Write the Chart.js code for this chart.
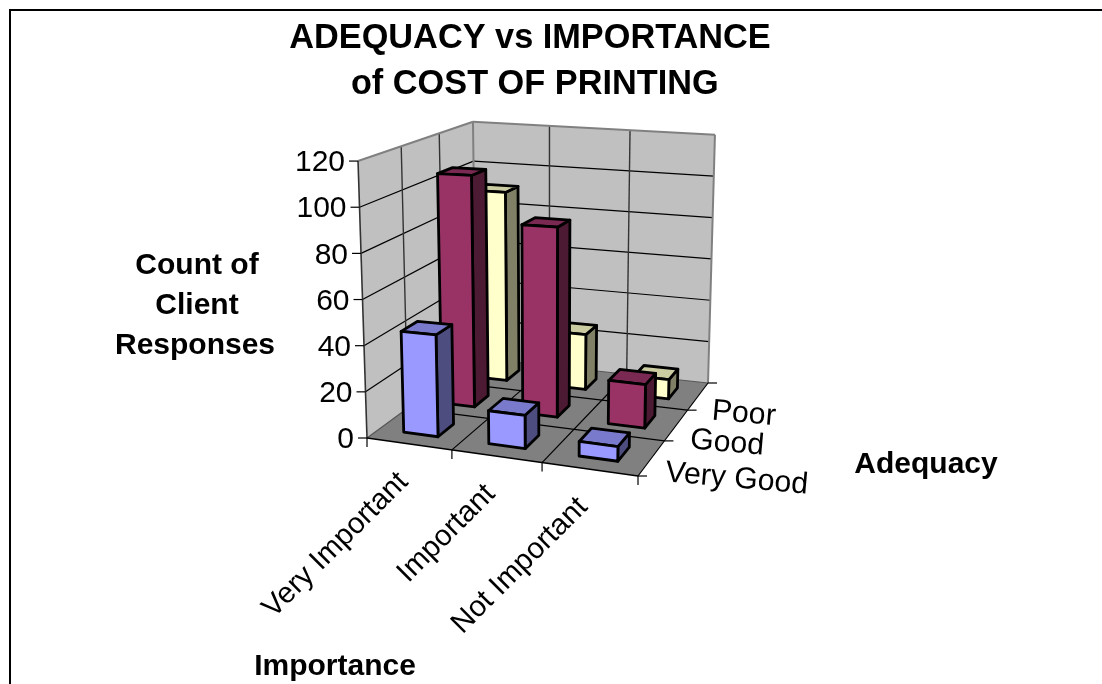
<!DOCTYPE html>
<html>
<head>
<meta charset="utf-8">
<title>Adequacy vs Importance of Cost of Printing</title>
<script src="https://cdn.jsdelivr.net/npm/chart.js@4"></script>
<style>
  html, body { margin: 0; padding: 0; background: #fff; overflow: hidden; }
  canvas { display: block; }
</style>
</head>
<body>
<canvas id="printingChart" width="1102" height="684"></canvas>
<script>
// chart values
const importance = ['Very Important', 'Important', 'Not Important'];
const adequacy = ['Very Good', 'Good', 'Poor'];
const veryGoodCounts = [44, 14, 6];
const goodCounts = [106, 85, 19];
const poorCounts = [91, 26, 9];
const countTicks = [0, 20, 40, 60, 80, 100, 120];

const FONT = '"Liberation Sans", Arial, sans-serif';

// floor corners of the 3d box, in canvas pixels
const floorQuad = { fl: [367, 438], fr: [638, 476], br: [708, 383], bl: [476, 358] };
// uprights lean away from this point
const vanish = [549, 6058];
// how much shorter an upright gets at the other floor corners
const shrink = { fr: 0.915, bl: 1.173, br: 1.116 };
const BAR_SHARE = 0.41;

// square -> quad perspective map
function makeFloor(q) {
    const dx1 = q.fr[0] - q.br[0], dx2 = q.bl[0] - q.br[0];
    const dy1 = q.fr[1] - q.br[1], dy2 = q.bl[1] - q.br[1];
    const sx = q.fl[0] - q.fr[0] + q.br[0] - q.bl[0];
    const sy = q.fl[1] - q.fr[1] + q.br[1] - q.bl[1];
    const den = dx1 * dy2 - dx2 * dy1;
    const g = (sx * dy2 - dx2 * sy) / den;
    const h = (dx1 * sy - sx * dy1) / den;
    const a = q.fr[0] - q.fl[0] + g * q.fr[0], b = q.bl[0] - q.fl[0] + h * q.bl[0];
    const d = q.fr[1] - q.fl[1] + g * q.fr[1], e = q.bl[1] - q.fl[1] + h * q.bl[1];
    return (u, v) => {
        const w = g * u + h * v + 1;
        return { x: (a * u + b * v + q.fl[0]) / w, y: (d * u + e * v + q.fl[1]) / w };
    };
}
const floorAt = makeFloor(floorQuad);

// u across importance, v into depth, px = height taken from the y scale
function project(u, v, px) {
    const f = floorAt(u, v);
    const dx = f.x - vanish[0], dy = f.y - vanish[1];
    const len = Math.hypot(dx, dy);
    const w = (1 - u) * (1 - v) + u * (1 - v) * shrink.fr + (1 - u) * v * shrink.bl + u * v * shrink.br;
    const s = (px || 0) / w;
    return [f.x + dx / len * s, f.y + dy / len * s];
}

function poly(ctx, pts, fill, stroke, lw) {
    ctx.beginPath();
    pts.forEach((p, i) => i ? ctx.lineTo(p[0], p[1]) : ctx.moveTo(p[0], p[1]));
    ctx.closePath();
    if (fill) { ctx.fillStyle = fill; ctx.fill(); }
    if (stroke) { ctx.strokeStyle = stroke; ctx.lineWidth = lw; ctx.stroke(); }
}

function line(ctx, a, b, color, lw) {
    ctx.beginPath();
    ctx.moveTo(a[0], a[1]);
    ctx.lineTo(b[0], b[1]);
    ctx.strokeStyle = color;
    ctx.lineWidth = lw;
    ctx.stroke();
}

function label(ctx, text, x, y, font, align, angle) {
    ctx.save();
    ctx.translate(x, y);
    ctx.rotate((angle || 0) * Math.PI / 180);
    ctx.font = font;
    ctx.fillStyle = '#000';
    ctx.textAlign = align || 'center';
    ctx.textBaseline = 'middle';
    ctx.fillText(text, 0, 2);
    ctx.restore();
}

// walls, floor and grid
function drawBox(ctx, chart) {
    const y = chart.scales.y;
    const base = y.getPixelForValue(0);
    const top = base - y.getPixelForValue(120);
    const wall = '#c0c0c0', edge = '#808080';

    poly(ctx, [project(0, 0), project(0, 1), project(0, 1, top), project(0, 0, top)], wall);
    poly(ctx, [project(0, 1), project(1, 1), project(1, 1, top), project(0, 1, top)], wall);
    poly(ctx, [project(0, 0), project(1, 0), project(1, 1), project(0, 1)], '#808080');

    countTicks.slice(1, -1).forEach(t => {
        const h = base - y.getPixelForValue(t);
        line(ctx, project(0, 0, h), project(0, 1, h), '#000', 1.2);
        line(ctx, project(0, 1, h), project(1, 1, h), '#000', 1.2);
    });
    [1 / 3, 2 / 3].forEach(t => {
        line(ctx, project(0, t), project(0, t, top), '#333', 1.4);
        line(ctx, project(t, 1), project(t, 1, top), '#333', 1.4);
        line(ctx, project(t, 0), project(t, 1), '#000', 1.2);
        line(ctx, project(0, t), project(1, t), '#000', 1.2);
    });

    line(ctx, project(0, 0, top), project(0, 1, top), edge, 2);
    line(ctx, project(0, 1, top), project(1, 1, top), edge, 2);
    line(ctx, project(1, 1, top), project(1, 1), edge, 2);
    line(ctx, project(0, 1), project(0, 1, top), edge, 2);
    line(ctx, project(0, 1), project(1, 1), '#555', 1.2);
    line(ctx, project(0, 0), project(0, 1), '#555', 1.2);

    // axis lines and tick marks
    line(ctx, project(0, 0), project(0, 0, top), '#333', 1.6);
    line(ctx, project(0, 0), project(1, 0), '#000', 1.6);
    line(ctx, project(1, 0), project(1, 1), '#000', 1.2);
    countTicks.forEach(t => {
        const p = project(0, 0, base - y.getPixelForValue(t));
        line(ctx, [p[0] - 9, p[1]], p, '#000', 1.2);
        label(ctx, String(t), p[0] - 13, p[1], '30px ' + FONT, 'right');
    });
    [0, 1, 2, 3].forEach(i => {
        const a = project(i / 3, 0);
        line(ctx, a, [a[0], a[1] + 9], '#000', 1.2);
        const b = project(1, i / 3);
        line(ctx, b, [b[0] + 9, b[1]], '#000', 1.2);
    });
}

function drawBar(ctx, chart, i, j, value, colors) {
    const x = chart.scales.x, y = chart.scales.y;
    const h = y.getPixelForValue(0) - y.getPixelForValue(value);
    const uc = (x.getPixelForValue(i) - chart.chartArea.left) / chart.chartArea.width;
    const vc = (j + 0.5) / adequacy.length;
    const du = BAR_SHARE / importance.length / 2, dv = BAR_SHARE / adequacy.length / 2;
    const u0 = uc - du, u1 = uc + du, v0 = vc - dv, v1 = vc + dv;
    const stroke = '#000', lw = 2.8;
    ctx.lineJoin = 'round';
    poly(ctx, [project(u1, v0), project(u1, v1), project(u1, v1, h), project(u1, v0, h)], colors[2], stroke, lw);
    poly(ctx, [project(u0, v0, h), project(u1, v0, h), project(u1, v1, h), project(u0, v1, h)], colors[1], stroke, lw);
    poly(ctx, [project(u0, v0), project(u1, v0), project(u1, v0, h), project(u0, v0, h)], colors[0], stroke, lw);
}

const box3d = {
    id: 'box3d',
    beforeDraw(chart) {
        const ctx = chart.ctx;
        ctx.save();
        ctx.fillStyle = '#fff';
        ctx.fillRect(0, 0, chart.width, chart.height);
        // frame runs off the right and bottom of the page
        ctx.strokeStyle = '#000';
        ctx.lineWidth = 2;
        ctx.strokeRect(10, 10, chart.width + 50, chart.height + 50);
        ctx.restore();
    },
    // the bars get drawn here instead of the flat ones
    beforeDatasetsDraw(chart) {
        const ctx = chart.ctx;
        ctx.save();
        drawBox(ctx, chart);
        for (let j = chart.data.datasets.length - 1; j >= 0; j--) {
            const ds = chart.data.datasets[j];
            ds.data.forEach((value, i) => {
                drawBar(ctx, chart, i, j, value, [ds.backgroundColor, ds.topColor, ds.sideColor]);
            });
        }
        importance.forEach((name, i) => {
            const p = project((i + 0.42) / importance.length, 0);
            label(ctx, name, p[0], p[1] + 33, '29.5px ' + FONT, 'right', -45);
        });
        adequacy.forEach((name, j) => {
            const p = project(1, (j + 0.5) / adequacy.length);
            label(ctx, name, p[0] + 14, p[1] + 13, '30.3px ' + FONT, 'left', 5);
        });
        const bold = 'bold 30px ' + FONT;
        label(ctx, 'Count of', 197, 264, bold);
        label(ctx, 'Client', 197, 304, bold);
        label(ctx, 'Responses', 195, 344, bold);
        label(ctx, 'Adequacy', 926, 463, bold);
        label(ctx, 'Importance', 335, 665, bold);
        ctx.restore();
        return false;
    }
};

const ctx = document.getElementById('printingChart').getContext('2d');
const printingChart = new Chart(ctx, {
    type: 'bar',
    data: {
        labels: importance,
        datasets: [
            { label: adequacy[0], data: veryGoodCounts, backgroundColor: '#9999ff', topColor: '#7a7acc', sideColor: '#4d4d80' },
            { label: adequacy[1], data: goodCounts, backgroundColor: '#993366', topColor: '#7a2952', sideColor: '#4d1a33' },
            { label: adequacy[2], data: poorCounts, backgroundColor: '#ffffcc', topColor: '#cccca3', sideColor: '#808066' }
        ]
    },
    options: {
        responsive: false,
        animation: false,
        events: [],
        layout: { padding: { left: 270, right: 312, top: 0, bottom: 246 } },
        scales: {
            x: { display: false },
            y: { display: false, min: 0, max: 120 }
        },
        plugins: {
            legend: { display: false },
            tooltip: { enabled: false },
            title: {
                display: true,
                text: ['ADEQUACY vs IMPORTANCE', ' of COST OF PRINTING'],
                color: '#000',
                font: { family: FONT, size: 34.3, weight: 'bold', lineHeight: 1.34 },
                padding: { top: 16, bottom: 53 }
            }
        }
    },
    plugins: [box3d]
});
</script>
</body>
</html>
